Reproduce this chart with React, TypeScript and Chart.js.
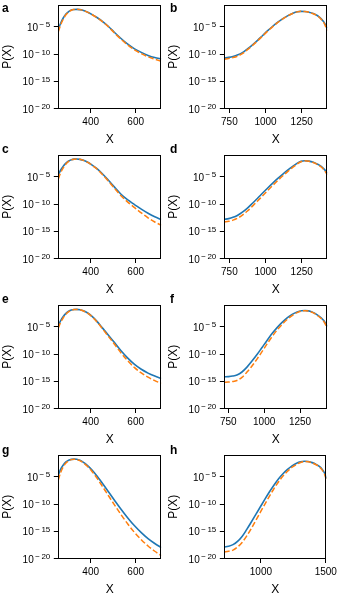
import React, { useEffect, useRef } from 'react';
import { Chart, registerables } from 'chart.js';

Chart.register(...registerables);

// ---------- data (log10 of P(X)) ----------
const LEFT_X_TICKS = [400, 600];
const RIGHT_X_TICKS = [750, 1000, 1250];
const H_X_TICKS = [1000, 1500];
const Y_TICK_EXPONENTS = [-20, -15, -10, -5];
const Y_MIN_EXP = -20;
const Y_MAX_EXP = -1;
const PANEL_LETTERS = ['a', 'b', 'c', 'd', 'e', 'f', 'g', 'h'];
const X_RANGES = [
  [256, 714], [715, 1427],
  [256, 714], [715, 1427],
  [256, 714], [722, 1440],
  [256, 714], [718, 1505],
];

const LEFT_X = [256, 266, 278, 290, 302, 314, 326, 338, 352, 368, 385, 405, 428, 452, 478, 505, 535, 565, 595, 625, 655, 685, 714];
const BD_X = [715, 745, 775, 805, 840, 875, 910, 945, 980, 1015, 1050, 1085, 1120, 1155, 1190, 1220, 1245, 1270, 1300, 1330, 1360, 1385, 1405, 1427];
const F_X = [722, 750, 780, 810, 845, 880, 915, 950, 985, 1020, 1055, 1090, 1125, 1160, 1195, 1230, 1260, 1285, 1310, 1340, 1370, 1395, 1418, 1440];
const H_X = [718, 750, 785, 820, 855, 890, 925, 960, 995, 1030, 1065, 1100, 1135, 1170, 1205, 1240, 1275, 1305, 1335, 1365, 1395, 1425, 1450, 1470, 1490, 1505];

const aBlue = [-5.5, -4.4, -3.39, -2.67, -2.2, -1.93, -1.83, -1.8, -1.85, -2.0, -2.3, -2.72, -3.3, -4.0, -4.9, -6.0, -7.15, -8.2, -9.05, -9.7, -10.25, -10.65, -10.9];
const aOrange = [-5.9, -4.7, -3.6, -2.8, -2.27, -1.96, -1.84, -1.8, -1.85, -2.0, -2.31, -2.74, -3.33, -4.05, -4.97, -6.1, -7.28, -8.36, -9.24, -9.92, -10.5, -10.94, -11.35];

const bBlue = [-10.75, -10.62, -10.45, -10.2, -9.75, -9.05, -8.3, -7.48, -6.6, -5.72, -4.9, -4.15, -3.5, -2.95, -2.5, -2.25, -2.17, -2.2, -2.33, -2.58, -2.98, -3.55, -4.2, -5.3];
const bOrange = [-10.95, -10.82, -10.65, -10.4, -9.93, -9.2, -8.43, -7.58, -6.68, -5.79, -4.96, -4.2, -3.54, -2.98, -2.52, -2.26, -2.17, -2.2, -2.34, -2.6, -3.02, -3.62, -4.35, -5.7];

const cBlue = [-4.65, -3.8, -3.05, -2.5, -2.1, -1.87, -1.75, -1.73, -1.8, -1.98, -2.3, -2.8, -3.5, -4.45, -5.6, -6.85, -8.2, -9.25, -10.1, -10.95, -11.7, -12.35, -12.85];
const cOrange = [-5.4, -4.3, -3.35, -2.65, -2.17, -1.9, -1.76, -1.73, -1.8, -1.99, -2.32, -2.85, -3.58, -4.57, -5.77, -7.07, -8.5, -9.65, -10.65, -11.63, -12.52, -13.3, -13.9];

const dBlue = [-12.8, -12.68, -12.45, -12.1, -11.5, -10.75, -9.85, -8.93, -7.98, -7.05, -6.15, -5.3, -4.5, -3.75, -3.05, -2.5, -2.17, -2.05, -2.13, -2.35, -2.7, -3.1, -3.6, -4.3];
const dOrange = [-13.3, -13.18, -12.96, -12.62, -12.03, -11.28, -10.38, -9.45, -8.48, -7.52, -6.58, -5.68, -4.82, -4.01, -3.24, -2.63, -2.24, -2.07, -2.14, -2.38, -2.76, -3.2, -3.76, -4.6];

const eBlue = [-4.75, -3.9, -3.12, -2.55, -2.15, -1.92, -1.82, -1.8, -1.86, -2.07, -2.42, -3.05, -4.0, -5.2, -6.5, -7.85, -9.4, -10.75, -11.9, -12.8, -13.5, -14.05, -14.5];
const eOrange = [-5.25, -4.25, -3.35, -2.69, -2.23, -1.96, -1.84, -1.81, -1.87, -2.09, -2.46, -3.11, -4.1, -5.35, -6.72, -8.15, -9.8, -11.25, -12.5, -13.48, -14.25, -14.88, -15.4];

const fBlue = [-14.2, -14.15, -14.05, -13.85, -13.3, -12.4, -11.3, -10.1, -8.8, -7.5, -6.25, -5.15, -4.2, -3.38, -2.72, -2.28, -2.05, -2.0, -2.08, -2.35, -2.8, -3.3, -3.95, -4.95];
const fOrange = [-15.2, -15.15, -15.05, -14.85, -14.28, -13.32, -12.2, -10.93, -9.55, -8.15, -6.8, -5.6, -4.55, -3.67, -2.93, -2.4, -2.12, -2.04, -2.12, -2.4, -2.88, -3.42, -4.12, -5.2];

const gBlue = [-4.7, -3.65, -2.82, -2.28, -1.97, -1.8, -1.75, -1.79, -1.98, -2.35, -2.9, -3.7, -4.85, -6.2, -7.7, -9.25, -10.95, -12.55, -14.0, -15.25, -16.35, -17.25, -18.0];
const gOrange = [-5.6, -4.25, -3.17, -2.48, -2.07, -1.85, -1.78, -1.82, -2.03, -2.45, -3.07, -3.97, -5.25, -6.75, -8.4, -10.1, -11.95, -13.67, -15.22, -16.55, -17.71, -18.67, -19.48];

const hBlue = [-17.9, -17.75, -17.45, -16.85, -15.95, -14.7, -13.35, -11.95, -10.55, -9.15, -7.8, -6.55, -5.4, -4.45, -3.65, -3.0, -2.52, -2.25, -2.15, -2.2, -2.4, -2.72, -3.1, -3.55, -4.3, -5.3];
const hOrange = [-18.8, -18.68, -18.45, -17.9, -17.05, -15.9, -14.55, -13.05, -11.55, -10.05, -8.6, -7.2, -5.95, -4.87, -3.97, -3.25, -2.72, -2.37, -2.2, -2.24, -2.45, -2.79, -3.2, -3.68, -4.5, -5.6];

const PANEL_X = [LEFT_X, BD_X, LEFT_X, BD_X, LEFT_X, F_X, LEFT_X, H_X];
const PANEL_BLUE = [aBlue, bBlue, cBlue, dBlue, eBlue, fBlue, gBlue, hBlue];
const PANEL_ORANGE = [aOrange, bOrange, cOrange, dOrange, eOrange, fOrange, gOrange, hOrange];
const PANEL_X_TICKS = [LEFT_X_TICKS, RIGHT_X_TICKS, LEFT_X_TICKS, RIGHT_X_TICKS, LEFT_X_TICKS, RIGHT_X_TICKS, LEFT_X_TICKS, H_X_TICKS];

// ---------- styling ----------
const FONT = 'Liberation Sans, Arial, Helvetica, sans-serif';
const BLUE = '#1f77b4';
const ORANGE = '#ff7f0e';
const LETTER_BASELINES = [11.7, 152.7, 303.3, 454];
const TICK_LEN = 4.5;

const framePlugin = {
  id: 'frame',
  afterDraw(chart: any) {
    const { ctx, chartArea } = chart;
    const l = Math.round(chartArea.left) + 0.5;
    const t = Math.round(chartArea.top) + 0.5;
    const r = Math.round(chartArea.right) - 0.5;
    const b = Math.round(chartArea.bottom) - 0.5;
    ctx.save();
    ctx.strokeStyle = '#000';
    ctx.lineWidth = 1;
    ctx.strokeRect(l, t, r - l, b - t);
    ctx.restore();
  },
};

// y tick labels drawn as "10" with a raised, smaller exponent (mathtext look)
const yLabelPlugin = {
  id: 'yLabels',
  afterDraw(chart: any) {
    const scale = chart.scales.y;
    const ctx = chart.ctx;
    const xRight = chart.chartArea.left - TICK_LEN - 3.5;
    ctx.save();
    ctx.fillStyle = '#000';
    ctx.textBaseline = 'alphabetic';
    ctx.textAlign = 'left';
    for (const e of Y_TICK_EXPONENTS) {
      const y = scale.getPixelForValue(Math.pow(10, e));
      const digits = String(Math.abs(e));
      ctx.font = `8px ${FONT}`;
      const minusW = ctx.measureText('\u2212').width;
      const digW = ctx.measureText(digits).width;
      const expGap = 1.6;
      const expW = minusW + expGap + digW;
      ctx.font = `10px ${FONT}`;
      const baseW = ctx.measureText('10').width;
      const gap = 1.4;
      const x0 = xRight - expW - gap - baseW;
      ctx.fillText('10', x0, y + 4);
      ctx.font = `8px ${FONT}`;
      ctx.fillText('\u2212', x0 + baseW + gap, y + 0.6);
      ctx.fillText(digits, x0 + baseW + gap + minusW + expGap, y + 0.6);
    }
    ctx.restore();
  },
};

function Panel({ index }: { index: number }) {
  const ref = useRef<HTMLCanvasElement | null>(null);
  const col = index % 2;
  const row = Math.floor(index / 2);
  const width = col === 0 ? 170 : 174;
  const left = col === 0 ? 0 : 166;
  const top = row * 150;

  useEffect(() => {
    const canvas = ref.current;
    if (!canvas) return;
    const xs = PANEL_X[index];
    const blue = PANEL_BLUE[index];
    const orange = PANEL_ORANGE[index];
    const [xMin, xMax] = X_RANGES[index];
    const xTicks = PANEL_X_TICKS[index];
    const chart = new Chart(canvas, {
      type: 'line',
      data: {
        datasets: [
          {
            data: xs.map((x, i) => ({ x, y: Math.pow(10, orange[i]) })),
            borderColor: ORANGE,
            borderWidth: 1.5,
            borderDash: [5.5, 2.4],
            pointRadius: 0,
            cubicInterpolationMode: 'monotone',
            fill: false,
            order: 1,
          },
          {
            data: xs.map((x, i) => ({ x, y: Math.pow(10, blue[i]) })),
            borderColor: BLUE,
            borderWidth: 1.6,
            pointRadius: 0,
            cubicInterpolationMode: 'monotone',
            fill: false,
            order: 2,
          },
        ],
      },
      options: {
        animation: false,
        responsive: false,
        devicePixelRatio: 1,
        events: [],
        layout: { padding: { left: 0, top: 5, right: width - 161.3, bottom: 0 } },
        plugins: { legend: { display: false }, tooltip: { enabled: false } },
        scales: {
          x: {
            type: 'linear',
            min: xMin,
            max: xMax,
            afterBuildTicks: (s: any) => {
              s.ticks = xTicks.map((v) => ({ value: v }));
            },
            afterFit: (s: any) => {
              s.height = 41.5;
            },
            ticks: {
              autoSkip: false,
              maxRotation: 0,
              color: '#000',
              padding: 3,
              font: { family: FONT, size: 10 },
              callback: (v: any) => String(v),
            },
            grid: { drawOnChartArea: false, drawTicks: true, tickLength: TICK_LEN, color: '#000', tickColor: '#000' },
            border: { display: false },
            title: {
              display: true,
              text: 'X',
              color: '#000',
              font: { family: FONT, size: 12 },
              padding: { top: 0, bottom: 3 },
            },
          },
          y: {
            type: 'logarithmic',
            min: Math.pow(10, Y_MIN_EXP),
            max: Math.pow(10, Y_MAX_EXP),
            afterBuildTicks: (s: any) => {
              s.ticks = Y_TICK_EXPONENTS.map((e) => ({ value: Math.pow(10, e) }));
            },
            afterFit: (s: any) => {
              s.width = 58.3;
            },
            ticks: {
              display: false,
              autoSkip: false,
            },
            grid: { drawOnChartArea: false, drawTicks: true, tickLength: TICK_LEN, color: '#000', tickColor: '#000' },
            border: { display: false },
            title: {
              display: true,
              text: 'P(X)',
              color: '#000',
              font: { family: FONT, size: 12 },
              padding: { top: 0, bottom: 0 },
            },
          },
        },
      } as any,
      plugins: [framePlugin, yLabelPlugin],
    });
    return () => chart.destroy();
  }, [index]);

  return (
    <>
      <canvas
        ref={ref}
        width={width}
        height={150}
        style={{ position: 'absolute', left, top, width, height: 150 }}
      />
      <div
        style={{
          position: 'absolute',
          left: col === 0 ? 2 : 170,
          top: LETTER_BASELINES[row] - 10.2,
          font: `bold 12px ${FONT}`,
          lineHeight: '12px',
          color: '#000',
        }}
      >
        {PANEL_LETTERS[index]}
      </div>
    </>
  );
}

export default function App() {
  return (
    <div
      style={{
        position: 'absolute',
        left: 0,
        top: 0,
        width: 340,
        height: 600,
        overflow: 'hidden',
        background: '#fff',
      }}
    >
      {PANEL_LETTERS.map((_, i) => (
        <Panel key={i} index={i} />
      ))}
    </div>
  );
}
